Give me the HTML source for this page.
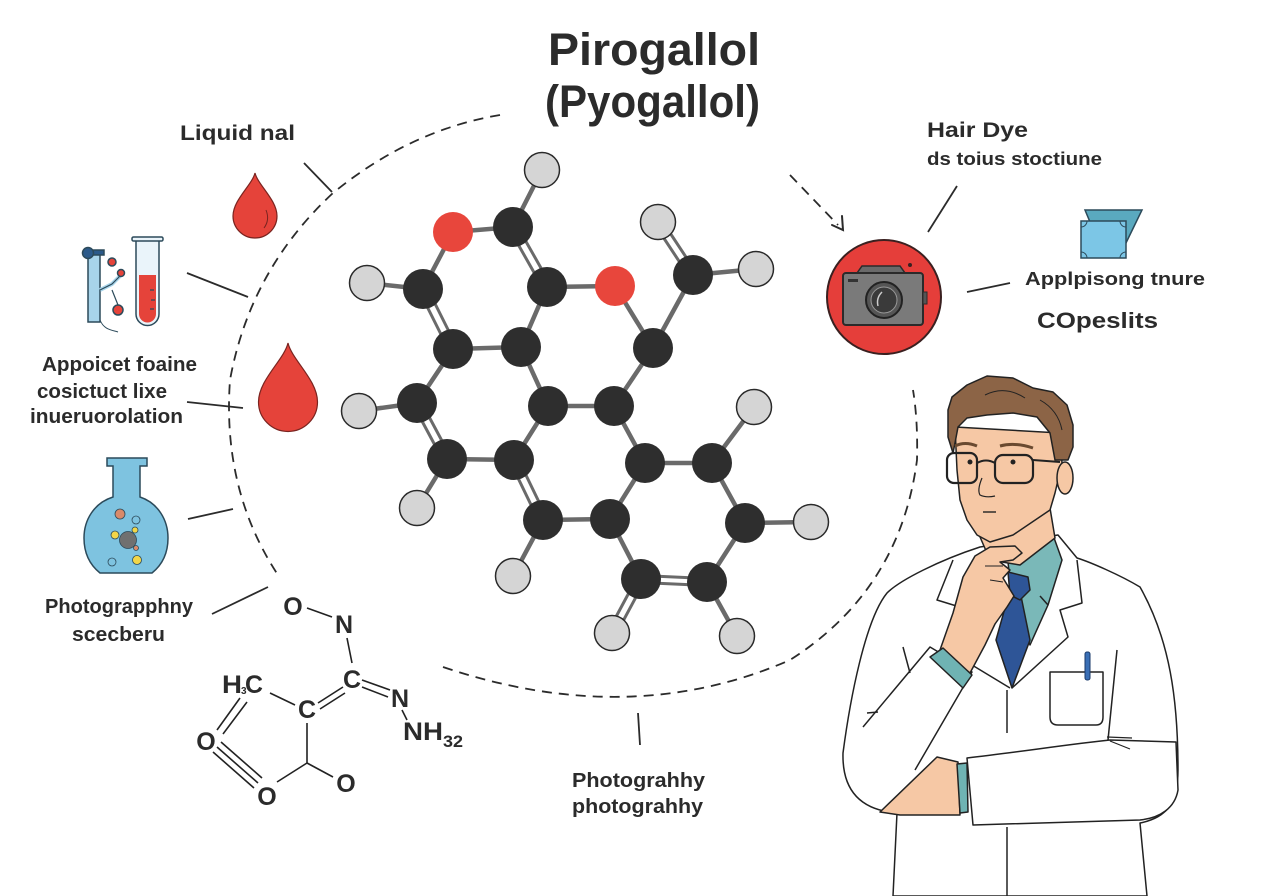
<!DOCTYPE html>
<html><head><meta charset="utf-8"><style>
html,body{margin:0;padding:0;background:#fff;}
svg{display:block;}
text{font-family:"Liberation Sans",Arial,sans-serif;font-weight:bold;fill:#2b2b2b;}
</style></head><body>
<svg width="1280" height="896" viewBox="0 0 1280 896" xmlns="http://www.w3.org/2000/svg">
<rect width="1280" height="896" fill="#ffffff"/>

<!-- Title -->
<text x="548" y="65" font-size="45" textLength="212" lengthAdjust="spacingAndGlyphs">Pirogallol</text>
<text x="545" y="117" font-size="45" textLength="215" lengthAdjust="spacingAndGlyphs">(Pyogallol)</text>

<!-- Dashed ellipse arcs -->
<g fill="none" stroke="#2b2b2b" stroke-width="1.8" stroke-dasharray="10 7">
<path d="M500,115 Q410,130 333,193 Q250,270 230,380 Q222,490 278,575"/>
<path d="M443,667 Q630,730 790,660 Q900,590 917,460 Q918,420 913,390"/>
<path d="M790,175 L838,225"/>
</g>
<g stroke="#2b2b2b" stroke-width="2" fill="none" stroke-linecap="round">
<path d="M832,225 L843,230 L842,216"/>
</g>

<!-- Connector lines -->
<g stroke="#2b2b2b" stroke-width="1.8" fill="none">
<line x1="304" y1="163" x2="332" y2="192"/>
<line x1="187" y1="273" x2="248" y2="297"/>
<line x1="187" y1="402" x2="243" y2="408"/>
<line x1="188" y1="519" x2="233" y2="509"/>
<line x1="212" y1="614" x2="268" y2="587"/>
<line x1="957" y1="186" x2="928" y2="232"/>
<line x1="967" y1="292" x2="1010" y2="283"/>
<line x1="638" y1="713" x2="640" y2="745"/>
</g>

<!-- Left labels -->
<text x="180" y="140" font-size="21" textLength="115" lengthAdjust="spacingAndGlyphs">Liquid nal</text>
<text x="42" y="371" font-size="20" textLength="155" lengthAdjust="spacingAndGlyphs">Appoicet foaine</text>
<text x="37" y="398" font-size="20" textLength="130" lengthAdjust="spacingAndGlyphs">cosictuct lixe</text>
<text x="30" y="423" font-size="20" textLength="153" lengthAdjust="spacingAndGlyphs">inueruorolation</text>
<text x="45" y="613" font-size="20" textLength="148" lengthAdjust="spacingAndGlyphs">Photograpphny</text>
<text x="72" y="641" font-size="20" textLength="93" lengthAdjust="spacingAndGlyphs">scecberu</text>
<text x="572" y="787" font-size="20" textLength="133" lengthAdjust="spacingAndGlyphs">Photograhhy</text>
<text x="572" y="813" font-size="20" textLength="131" lengthAdjust="spacingAndGlyphs">photograhhy</text>

<!-- Right labels -->
<text x="927" y="137" font-size="21" textLength="101" lengthAdjust="spacingAndGlyphs">Hair Dye</text>
<text x="927" y="165" font-size="18" textLength="175" lengthAdjust="spacingAndGlyphs">ds toius stoctiune</text>
<text x="1025" y="285" font-size="18" textLength="180" lengthAdjust="spacingAndGlyphs">Applpisong  tnure</text>
<text x="1037" y="328" font-size="22" textLength="121" lengthAdjust="spacingAndGlyphs">COpeslits</text>

<!-- Drops -->
<g fill="#e5433a" stroke="#7a2420" stroke-width="1.2">
<path d="M255,173 C258,185 277,200 277,216 A22,22 0 0 1 233,216 C233,200 252,185 255,173 Z"/>
<path d="M288,343 C292,360 317.5,380 317.5,402 A29.5,29.5 0 0 1 258.5,402 C258.5,380 284,360 288,343 Z"/>
</g>
<path d="M266,210 Q270,220 264,228" fill="none" stroke="#7a2420" stroke-width="1"/>

<!-- Test tube icon -->
<g stroke="#2c4a5a" stroke-width="1.5">
<rect x="88" y="252" width="12" height="70" fill="#a8d4ea"/>
<rect x="88" y="250" width="16" height="5" fill="#2c5a8a"/>
<circle cx="88" cy="253" r="5.5" fill="#2c5a8a"/>
<path d="M100,290 L112,284 L120,276" fill="none" stroke="#a8d4ea" stroke-width="4"/>
<path d="M100,290 L112,284 L120,276 M112,290 L118,305" fill="none" stroke-width="1.2"/>
<circle cx="112" cy="262" r="4" fill="#e5433a"/>
<circle cx="121" cy="273" r="3.5" fill="#e5433a"/>
<circle cx="118" cy="310" r="5" fill="#e5433a"/>
<path d="M100,320 C104,330 112,330 118,332" fill="none" stroke-width="1"/>
<path d="M136,240 V314 A11.5,11.5 0 0 0 159,314 V240" fill="#eaf4fa"/>
<rect x="132" y="237" width="31" height="4" rx="1.5" fill="#eaf4fa"/>
<path d="M139,275 V314 A8.5,8.5 0 0 0 156,314 V275 Z" fill="#e5433a" stroke="none"/>
<path d="M150,290 h4 M151,300 h4 M150,309 h4" stroke-width="1.2"/>
</g>

<!-- Flask -->
<path d="M107,458 H147 V466 H140 V497 C158,503 168,520 168,538 C168,553 162,565 152,573 H100 C90,565 84,553 84,538 C84,520 94,503 113,497 V466 H107 Z" fill="#7ec3e0" stroke="#2c4a5a" stroke-width="1.5"/>
<g stroke="#2c4a5a" stroke-width="0.8">
<circle cx="120" cy="514" r="5" fill="#d98a6a"/>
<circle cx="136" cy="520" r="4" fill="#7ec3e0"/>
<circle cx="115" cy="535" r="4" fill="#f2d648"/>
<circle cx="128" cy="540" r="8.5" fill="#707070"/>
<circle cx="135" cy="530" r="3" fill="#f2d648"/>
<circle cx="137" cy="560" r="4.5" fill="#f2d648"/>
<circle cx="112" cy="562" r="4" fill="#7ec3e0"/>
<circle cx="136" cy="548" r="2.5" fill="#d98a6a"/>
</g>

<!-- Camera -->
<circle cx="884" cy="297" r="57" fill="#e53e3a" stroke="#3a2020" stroke-width="2"/>
<path d="M857,273 L862,266 L900,266 L905,273 Z" fill="#6a6a6a" stroke="#2a2a2a" stroke-width="1.5"/>
<rect x="843" y="273" width="80" height="52" rx="3" fill="#7a7a7a" stroke="#2a2a2a" stroke-width="2"/>
<rect x="923" y="292" width="4" height="12" fill="#555" stroke="#2a2a2a" stroke-width="1"/>
<circle cx="910" cy="265" r="2" fill="#3a2020"/>
<rect x="848" y="279" width="10" height="3" fill="#333"/>
<circle cx="884" cy="300" r="18" fill="#555" stroke="#222" stroke-width="2"/>
<circle cx="884" cy="300" r="13" fill="#3a3a3a" stroke="#999" stroke-width="1"/>
<path d="M878,306 Q876,298 882,292" fill="none" stroke="#ccc" stroke-width="1.5"/>

<!-- Blue sheet icon -->
<path d="M1085,210 H1142 L1125,245 L1090,222 Z" fill="#5aa9bf" stroke="#2c4a5a" stroke-width="1.5"/>
<rect x="1081" y="221" width="45" height="37" fill="#7cc6e6" stroke="#2c4a5a" stroke-width="1.5"/>
<g fill="none" stroke="#2c4a5a" stroke-width="1">
<path d="M1081,227 A6,6 0 0 0 1087,221"/><path d="M1120,221 A6,6 0 0 0 1126,227"/>
<path d="M1081,252 A6,6 0 0 1 1087,258"/><path d="M1120,258 A6,6 0 0 1 1126,252"/>
</g>

<!-- Molecule bonds -->
<g stroke="#6a6a6a" stroke-width="4.5" stroke-linecap="round">
<line x1="542" y1="170" x2="513" y2="227"/>
<line x1="453" y1="232" x2="513" y2="227"/>
<line x1="453" y1="232" x2="423" y2="289"/>
<line x1="367" y1="283" x2="423" y2="289"/>
<line x1="547" y1="287" x2="615" y2="286"/>
<line x1="547" y1="287" x2="521" y2="347"/>
<line x1="453" y1="349" x2="521" y2="347"/>
<line x1="453" y1="349" x2="417" y2="403"/>
<line x1="615" y1="286" x2="653" y2="348"/>
<line x1="653" y1="348" x2="693" y2="275"/>
<line x1="693" y1="275" x2="756" y2="269"/>
<line x1="521" y1="347" x2="548" y2="406"/>
<line x1="653" y1="348" x2="614" y2="406"/>
<line x1="548" y1="406" x2="614" y2="406"/>
<line x1="359" y1="411" x2="417" y2="403"/>
<line x1="447" y1="459" x2="514" y2="460"/>
<line x1="548" y1="406" x2="514" y2="460"/>
<line x1="447" y1="459" x2="417" y2="508"/>
<line x1="543" y1="520" x2="610" y2="519"/>
<line x1="543" y1="520" x2="513" y2="576"/>
<line x1="614" y1="406" x2="645" y2="463"/>
<line x1="645" y1="463" x2="712" y2="463"/>
<line x1="645" y1="463" x2="610" y2="519"/>
<line x1="712" y1="463" x2="754" y2="407"/>
<line x1="712" y1="463" x2="745" y2="523"/>
<line x1="745" y1="523" x2="811" y2="522"/>
<line x1="745" y1="523" x2="707" y2="582"/>
<line x1="610" y1="519" x2="641" y2="579"/>
<line x1="707" y1="582" x2="737" y2="636"/>
</g>
<g stroke="#6a6a6a" stroke-width="3" stroke-linecap="round">
<line x1="509.4" y1="229" x2="543.4" y2="289"/><line x1="516.6" y1="225" x2="550.6" y2="285"/>
<line x1="419.3" y1="291" x2="449.3" y2="351"/><line x1="426.7" y1="287" x2="456.7" y2="347"/>
<line x1="696.5" y1="273" x2="661.5" y2="220"/><line x1="689.5" y1="277" x2="654.5" y2="224"/>
<line x1="413.4" y1="405" x2="443.4" y2="461"/><line x1="420.6" y1="401" x2="450.6" y2="457"/>
<line x1="510.3" y1="462" x2="539.3" y2="522"/><line x1="517.7" y1="458" x2="546.7" y2="518"/>
<line x1="641" y1="575.5" x2="707" y2="578.5"/><line x1="641" y1="582.5" x2="707" y2="585.5"/>
<line x1="644.6" y1="581" x2="615.6" y2="635"/><line x1="637.4" y1="577" x2="608.4" y2="631"/>
</g>

<!-- Molecule atoms: H -->
<g fill="#d5d5d5" stroke="#2a2a2a" stroke-width="1.5">
<circle cx="542" cy="170" r="17.5"/>
<circle cx="367" cy="283" r="17.5"/>
<circle cx="658" cy="222" r="17.5"/>
<circle cx="756" cy="269" r="17.5"/>
<circle cx="359" cy="411" r="17.5"/>
<circle cx="754" cy="407" r="17.5"/>
<circle cx="417" cy="508" r="17.5"/>
<circle cx="811" cy="522" r="17.5"/>
<circle cx="513" cy="576" r="17.5"/>
<circle cx="612" cy="633" r="17.5"/>
<circle cx="737" cy="636" r="17.5"/>
</g>
<!-- O -->
<g fill="#e8463c">
<circle cx="453" cy="232" r="20"/>
<circle cx="615" cy="286" r="20"/>
</g>
<!-- C -->
<g fill="#2e2e2e">
<circle cx="513" cy="227" r="20"/>
<circle cx="423" cy="289" r="20"/>
<circle cx="547" cy="287" r="20"/>
<circle cx="693" cy="275" r="20"/>
<circle cx="453" cy="349" r="20"/>
<circle cx="521" cy="347" r="20"/>
<circle cx="653" cy="348" r="20"/>
<circle cx="417" cy="403" r="20"/>
<circle cx="548" cy="406" r="20"/>
<circle cx="614" cy="406" r="20"/>
<circle cx="447" cy="459" r="20"/>
<circle cx="514" cy="460" r="20"/>
<circle cx="645" cy="463" r="20"/>
<circle cx="712" cy="463" r="20"/>
<circle cx="543" cy="520" r="20"/>
<circle cx="610" cy="519" r="20"/>
<circle cx="745" cy="523" r="20"/>
<circle cx="641" cy="579" r="20"/>
<circle cx="707" cy="582" r="20"/>
</g>

<!-- Bottom-left chemical structure -->
<g stroke="#222" stroke-width="1.6" fill="none">
<line x1="307" y1="608" x2="332" y2="617"/>
<line x1="347" y1="638" x2="352" y2="663"/>
<line x1="362" y1="680" x2="390" y2="690"/>
<line x1="362" y1="687" x2="388" y2="697"/>
<line x1="402" y1="710" x2="407" y2="720"/>
<line x1="270" y1="693" x2="295" y2="705"/>
<line x1="318" y1="703" x2="343" y2="687"/>
<line x1="320" y1="709" x2="345" y2="693"/>
<line x1="307" y1="723" x2="307" y2="763"/>
<line x1="307" y1="763" x2="333" y2="777"/>
<line x1="307" y1="763" x2="277" y2="782"/>
<line x1="240" y1="698" x2="217" y2="730"/>
<line x1="247" y1="702" x2="223" y2="734"/>
<line x1="217" y1="747" x2="258" y2="783"/>
<line x1="221" y1="742" x2="262" y2="778"/>
<line x1="213" y1="752" x2="254" y2="788"/>
</g>
<g font-size="25" fill="#222">
<text x="293" y="615" text-anchor="middle">O</text>
<text x="344" y="633" text-anchor="middle">N</text>
<text x="352" y="688" text-anchor="middle">C</text>
<text x="400" y="707" text-anchor="middle">N</text>
<text x="403" y="740" textLength="40" lengthAdjust="spacingAndGlyphs">NH</text>
<text x="443" y="747" font-size="17" textLength="20" lengthAdjust="spacingAndGlyphs">32</text>
<text x="222" y="693" textLength="20" lengthAdjust="spacingAndGlyphs">H</text>
<text x="241" y="694" font-size="10">3</text>
<text x="245" y="693" textLength="18" lengthAdjust="spacingAndGlyphs">C</text>
<text x="307" y="718" text-anchor="middle">C</text>
<text x="206" y="750" text-anchor="middle">O</text>
<text x="267" y="805" text-anchor="middle">O</text>
<text x="346" y="792" text-anchor="middle">O</text>
</g>

<!-- Scientist -->
<g stroke="#222" stroke-width="1.5" stroke-linejoin="round">
<!-- coat body -->
<path d="M980,547 C940,560 900,580 887,593 C865,620 850,700 843,753 C842,790 860,810 897,813 L893,896 L1147,896 L1140,823 C1165,818 1178,805 1178,770 C1178,700 1170,640 1140,587 C1120,575 1090,562 1077,558 L1058,535 L980,547 Z" fill="#fff"/>
<!-- collar / shirt -->
<path d="M1008,562 L1053,535 L1062,560 L1048,605 L1030,645 L1012,600 Z" fill="#7ab8b8"/>
<!-- neck -->
<path d="M977,530 L1050,508 L1055,538 L1020,565 L990,560 Z" fill="#f6c8a5"/>
<!-- tie -->
<path d="M1010,590 L1021,596 L1030,640 L1012,688 L996,640 Z" fill="#2e5597"/>
<path d="M1008,572 L1028,577 L1030,590 L1020,600 L1010,595 Z" fill="#2e5597"/>
<!-- lapels -->
<path d="M1077,560 L1082,603 L1060,610 L1068,637 L1012,688" fill="none"/>
<path d="M953,560 L937,600 L963,608 L972,665 L1010,688" fill="none"/>
<path d="M1048,605 L1040,596" fill="none"/>
<line x1="1007" y1="690" x2="1007" y2="733"/>
<line x1="1007" y1="827" x2="1007" y2="896"/>
<line x1="1117" y1="650" x2="1108" y2="740"/>
<line x1="903" y1="647" x2="910" y2="673"/>
<line x1="867" y1="713" x2="878" y2="712"/>
<!-- pocket -->
<path d="M1050,672 V717 Q1050,725 1058,725 H1096 Q1103,725 1103,717 V672 Z" fill="#fff"/>
<rect x="1085" y="652" width="5" height="28" rx="2" fill="#3a6fb5" stroke="#1a3a6a" stroke-width="1"/>
<!-- raised arm sleeve -->
<path d="M863,727 L930,647 L972,672 L915,770" fill="none"/>
<!-- folded arm sleeve -->
<path d="M967,758 C1020,752 1070,744 1110,740 L1176,742 L1178,790 C1175,808 1160,818 1140,820 L973,825 Z" fill="#fff"/>
<path d="M1107,737 L1132,738 M1110,741 L1130,749" fill="none" stroke-width="1.2"/>
<!-- tucked hand -->
<path d="M880,812 L937,757 L958,762 L960,815 L900,815 Z" fill="#f6c8a5"/>
<path d="M957,764 L967,763 L968,812 L960,813 Z" fill="#6fb3b3"/>
<!-- raised forearm and hand -->
<path d="M940,650 L953,613 L963,577 L975,556 L990,547 L1015,546 L1022,553 L1013,560 L1000,562 L1010,570 L1003,578 L1014,596 L1007,607 L995,624 L985,645 L970,673 Z" fill="#f6c8a5"/>
<path d="M985,566 L1003,566 M990,580 L1003,582" fill="none" stroke-width="1.1"/>
<path d="M930,657 L943,648 L972,675 L963,688 Z" fill="#6fb3b3"/>
<!-- face -->
<path d="M955,427 L1060,433 L1062,463 L1055,493 L1050,510 L1013,535 L990,542 L977,535 L967,520 L960,500 L957,470 Z" fill="#f6c8a5"/>
<ellipse cx="1065" cy="478" rx="8" ry="16" fill="#f6c8a5"/>
<!-- hair -->
<path d="M948,410 L952,397 L967,385 L987,376 L1013,378 L1033,388 L1053,392 L1067,405 L1073,425 L1073,447 L1068,460 L1055,460 L1050,433 L1037,417 L1013,413 L987,415 L967,418 L958,427 L955,443 L953,453 L948,437 Z" fill="#8c6446"/>
<path d="M985,395 Q1005,385 1025,398 M1040,400 Q1058,410 1062,430" fill="none" stroke-width="1"/>
</g>
<!-- face details -->
<g fill="none" stroke="#222">
<rect x="947" y="453" width="30" height="30" rx="7" stroke-width="2.2"/>
<rect x="995" y="455" width="38" height="28" rx="8" stroke-width="2.2"/>
<path d="M977,463 Q986,458 995,463" stroke-width="2"/>
<path d="M1033,460 L1060,462" stroke-width="2"/>
<path d="M955,446 Q965,441 977,446" stroke="#6a4a30" stroke-width="3"/>
<path d="M1000,446 Q1015,442 1033,448" stroke="#6a4a30" stroke-width="3"/>
<path d="M982,478 Q977,490 980,495 Q986,498 995,496" stroke-width="1.2"/>
<path d="M983,512 L996,512" stroke-width="1.4"/>
</g>
<circle cx="970" cy="462" r="2.5" fill="#222"/>
<circle cx="1013" cy="462" r="2.5" fill="#222"/>
</svg>
</body></html>
